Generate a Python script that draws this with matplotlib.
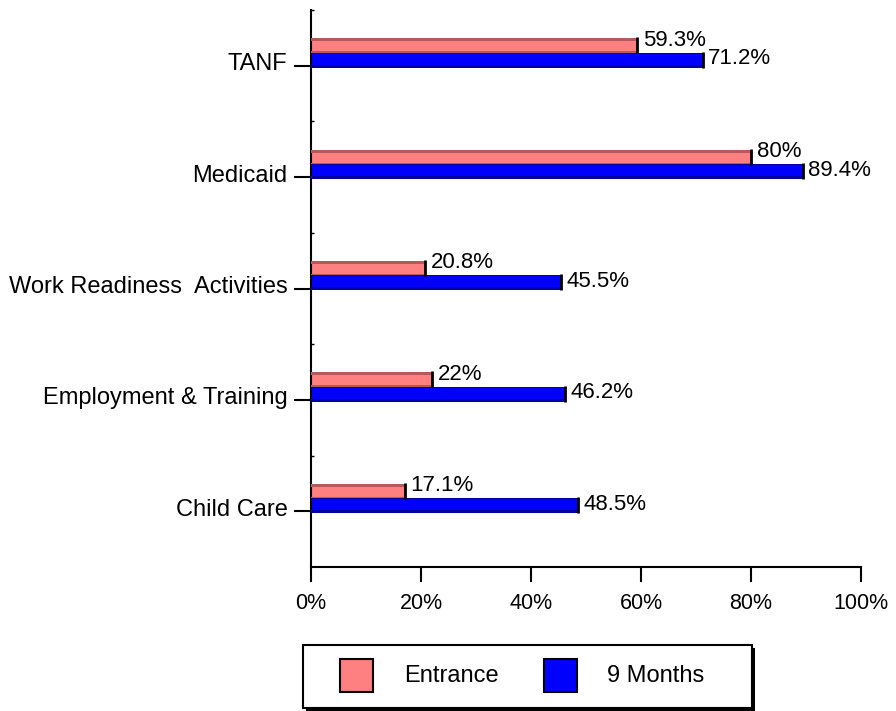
import matplotlib.pyplot as plt
from matplotlib.patches import Rectangle
from matplotlib.ticker import FixedLocator, PercentFormatter
from matplotlib.transforms import ScaledTranslation

plt.rcParams["font.family"] = ["Liberation Sans", "DejaVu Sans"]

categories = ["Child Care", "Employment & Training", "Work Readiness  Activities",
              "Medicaid", "TANF"]
entrance = [17.1, 22, 20.8, 80, 59.3]
nine_months = [48.5, 46.2, 45.5, 89.4, 71.2]

PINK = "#FF8080"
PINK_DARK = "#B45A5A"
BLUE = "#0000FF"
BLUE_DARK = "#00009C"

W, H = 896, 711
fig = plt.figure(figsize=(W / 100, H / 100), dpi=100)
ax = fig.add_axes([311 / W, 1 - 567 / H, 550 / W, 557 / H])

px = 5 / 557  # one pixel in y data units
bar_h = 15 * px
y = list(range(len(categories)))
y_pink = [v + 0.18 for v in y]
y_blue = [v + 0.05 for v in y]


def shaded_bars(ypos, values, face, dark, top_px, bottom_px):
    ax.barh(ypos, values, height=bar_h, color=face, linewidth=0, zorder=2)
    ax.barh([v + bar_h / 2 - top_px * px / 2 for v in ypos], values,
            height=top_px * px, color=dark, linewidth=0, zorder=3)
    ax.barh([v - bar_h / 2 + bottom_px * px / 2 for v in ypos], values,
            height=bottom_px * px, color=dark, linewidth=0, zorder=3)
    # dark end cap on each bar
    ax.vlines(values, [v - bar_h / 2 for v in ypos], [v + bar_h / 2 + px for v in ypos],
              color="black", linewidth=2, zorder=4)


shaded_bars(y_pink, entrance, PINK, PINK_DARK, 3, 2)
shaded_bars(y_blue, nine_months, BLUE, BLUE_DARK, 1, 3)

for yp, v in zip(y_pink, entrance):
    ax.annotate(f"{v:g}%", (v, yp), xytext=(4, 4), textcoords="offset points",
                ha="left", va="center", fontsize=16)
for yp, v in zip(y_blue, nine_months):
    ax.annotate(f"{v:g}%", (v, yp), xytext=(4, 1), textcoords="offset points",
                ha="left", va="center", fontsize=16)

ax.set_xlim(0, 100)
ax.set_ylim(-0.5, len(categories) - 0.5)
ax.set_xticks([0, 20, 40, 60, 80, 100])
ax.xaxis.set_major_formatter(PercentFormatter(decimals=0))
ax.set_yticks(y)
ax.set_yticklabels(categories, fontsize=17)
ax.yaxis.set_minor_locator(FixedLocator([v + 0.5 for v in y]))
ax.tick_params(axis="x", length=11, width=1.5, pad=8, labelsize=15.5)
ax.tick_params(axis="y", which="major", length=12, width=1.5, pad=5)
ax.tick_params(axis="y", which="minor", length=2, width=1, direction="in")

# category names sit a little above their ticks
lift = ScaledTranslation(0, 4 / 100, fig.dpi_scale_trans)
for lbl in ax.get_yticklabels():
    lbl.set_transform(lbl.get_transform() + lift)

for side in ("top", "right"):
    ax.spines[side].set_visible(False)
for side in ("left", "bottom"):
    ax.spines[side].set_linewidth(1.5)


def fig_rect(x0, y0, x1, y1, **kw):
    r = Rectangle((x0 / W, 1 - y1 / H), (x1 - x0) / W, (y1 - y0) / H,
                  transform=fig.transFigure, **kw)
    fig.add_artist(r)
    return r


# boxed legend with a hard drop shadow
fig_rect(306, 648, 755, 711, facecolor="black", edgecolor="none")
fig_rect(303, 645, 752, 708, facecolor="white", edgecolor="black", linewidth=1.5)
fig_rect(340, 659, 373, 692, facecolor=PINK, edgecolor="black", linewidth=1.5)
fig_rect(544, 659, 577, 692, facecolor=BLUE, edgecolor="black", linewidth=1.5)
fig.text(404 / W, 1 - 676 / H, "Entrance", fontsize=17, ha="left", va="center")
fig.text(607 / W, 1 - 676 / H, "9 Months", fontsize=17, ha="left", va="center")

fig.savefig("out.png", dpi=100)
